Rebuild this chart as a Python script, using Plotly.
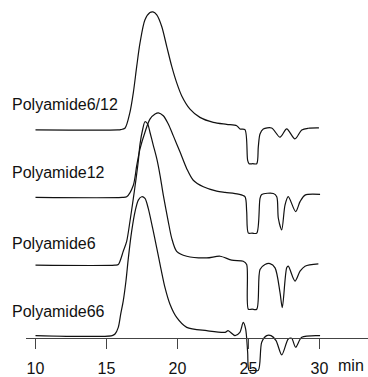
import plotly.graph_objects as go

# Retention time (min) and detector signal (arbitrary units, relative to each baseline)
names = ["Polyamide6/12", "Polyamide12", "Polyamide6", "Polyamide66"]
offsets = [207.3, 139.3, 71.0, 0.0]

time_pa612 = [10.0, 15.8, 16.0, 16.3, 16.65, 16.89, 17.13, 17.36, 17.71, 18.06, 18.27,
              18.54, 18.89, 19.24, 19.59, 19.94, 20.30, 20.88, 21.58, 22.52, 23.46,
              24.17, 24.40, 24.75, 24.94, 25.04, 25.3, 25.58, 25.69, 25.81, 26.04,
              26.63, 27.22, 27.69, 28.27, 28.75, 29.21, 29.96]
signal_pa612 = [0, 0, 0.3, 1.7, 17.7, 37.7, 64.3, 87.7, 111, 118.3, 119,
                116, 104.3, 84.3, 64.3, 47.7, 34.3, 21, 12.7, 7.7, 5.7,
                4.3, 1, 0.3, -30.7, -34, -34, -34, -17, -4, 1,
                2, -7.3, 1, -9, 0, 1.7, 2]

time_pa12 = [10.0, 16.1, 16.42, 16.89, 17.13, 17.36, 17.71, 18.06, 18.42, 18.65,
             19.00, 19.35, 19.70, 20.18, 20.65, 21.11, 21.82, 22.76, 23.35, 24.28,
             24.75, 24.87, 24.99, 25.25, 25.58, 25.81, 25.93, 26.75, 26.99, 27.10,
             27.34, 27.57, 27.80, 28.32, 28.63, 28.98, 30.04]
signal_pa12 = [0, 0, 0.7, 12.3, 32.3, 49, 65.7, 79, 84, 85.3,
               82.3, 74, 62.3, 45.7, 29, 17.3, 10.7, 6.3, 5, 3.3,
               0.7, -14, -36, -36, -36, -1, 3, 4, 0.7, -21,
               -32.7, -7.7, 0.7, -14.3, -4.3, 2.3, 3]

time_pa6 = [10.0, 15.6, 15.83, 16.18, 16.42, 16.65, 16.89, 17.08, 17.24, 17.36, 17.55,
            17.71, 17.90, 18.06, 18.30, 18.54, 18.77, 19.00, 19.35, 19.59, 19.94,
            20.65, 22.06, 23.00, 23.82, 24.63, 24.87, 24.99, 25.25, 25.58, 25.81,
            26.16, 26.51, 26.87, 27.22, 27.38, 27.69, 27.80, 28.27, 28.63, 28.98, 29.92]
signal_pa6 = [0, 0, 0.6, 14, 24, 44, 67.3, 87, 105, 122, 137,
              144.6, 142.3, 134, 120.6, 107.3, 90.6, 70.6, 44, 27.3, 14,
              9, 7.3, 9, 5, 4, 0.6, -44.4, -44.4, -44.4, -4.4,
              0.6, 1.6, -2.7, -27.7, -42.7, -2.7, -1, -16, -6, -1, 1.3]

time_pa66 = [10.0, 15.4, 15.60, 15.83, 16.00, 16.18, 16.37, 16.54, 16.77, 17.01, 17.24,
             17.48, 17.71, 17.94, 18.25, 18.54, 18.82, 19.12, 19.47, 19.94, 20.65,
             22.06, 23.35, 23.56, 24.05, 24.39, 24.63, 24.80, 24.94, 25.04, 25.32,
             25.69, 25.93, 26.28, 26.59, 26.94, 27.34, 27.80, 28.04, 28.32, 28.75, 30.04]
signal_pa66 = [0, 0, 1.6, 8.3, 21.6, 35, 55, 78.3, 105, 125, 136.6,
               140, 138.3, 128.3, 108.3, 88.3, 68.3, 48.3, 31.6, 18.3, 8.3,
               5, 3.3, 5, 0, 3.3, 13.3, 6.6, -16.7, -35, -35,
               -35, -6.7, 0, 0, -5, -19.4, -3.4, -2.7, -11.7, -1.7, 0]

time_ticks = [10, 15, 20, 25, 30]

series = [
    (time_pa612, signal_pa612),
    (time_pa12, signal_pa12),
    (time_pa6, signal_pa6),
    (time_pa66, signal_pa66),
]

FONT = "Liberation Sans, Arial, Helvetica, sans-serif"

fig = go.Figure()
for (t, s), off in zip(series, offsets):
    fig.add_trace(go.Scatter(
        x=t, y=[v + off for v in s], mode="lines",
        line=dict(color="#111111", width=1.2, shape="spline", smoothing=0.8),
        showlegend=False, hoverinfo="skip",
    ))

# trace labels, placed at each curve's baseline height
label_y = [233.1, 164.1, 93.3, 24.5]
for name, yv in zip(names, label_y):
    fig.add_annotation(
        x=10 / 368, xref="paper", y=yv, yref="y", text=name,
        xanchor="left", yanchor="middle", showarrow=False,
        font=dict(family=FONT, size=16, color="#111111"),
    )

fig.add_annotation(
    x=336.0 / 368, xref="paper", y=(377 - 368.5) / 377, yref="paper", text="min",
    xanchor="left", yanchor="middle", showarrow=False,
    font=dict(family=FONT, size=16, color="#111111"),
)

fig.update_layout(
    width=368, height=377,
    margin=dict(l=0, r=0, t=0, b=0),
    paper_bgcolor="white", plot_bgcolor="white",
    xaxis=dict(
        domain=[26 / 368, 1], range=[9.331, 33.415],
        anchor="free", position=(377 - 340.5) / 377,
        showline=True, linecolor="#444444", linewidth=1.3,
        ticks="outside", ticklen=10, tickwidth=1.3, tickcolor="#444444",
        tickvals=time_ticks, ticktext=[str(v) for v in time_ticks],
        tickfont=dict(family=FONT, size=16, color="#111111"),
        ticklabelstandoff=6,
        showgrid=False, zeroline=False,
    ),
    yaxis=dict(range=[-38.7, 338.3], visible=False, showgrid=False, zeroline=False),
)

fig.write_html("out.html")
